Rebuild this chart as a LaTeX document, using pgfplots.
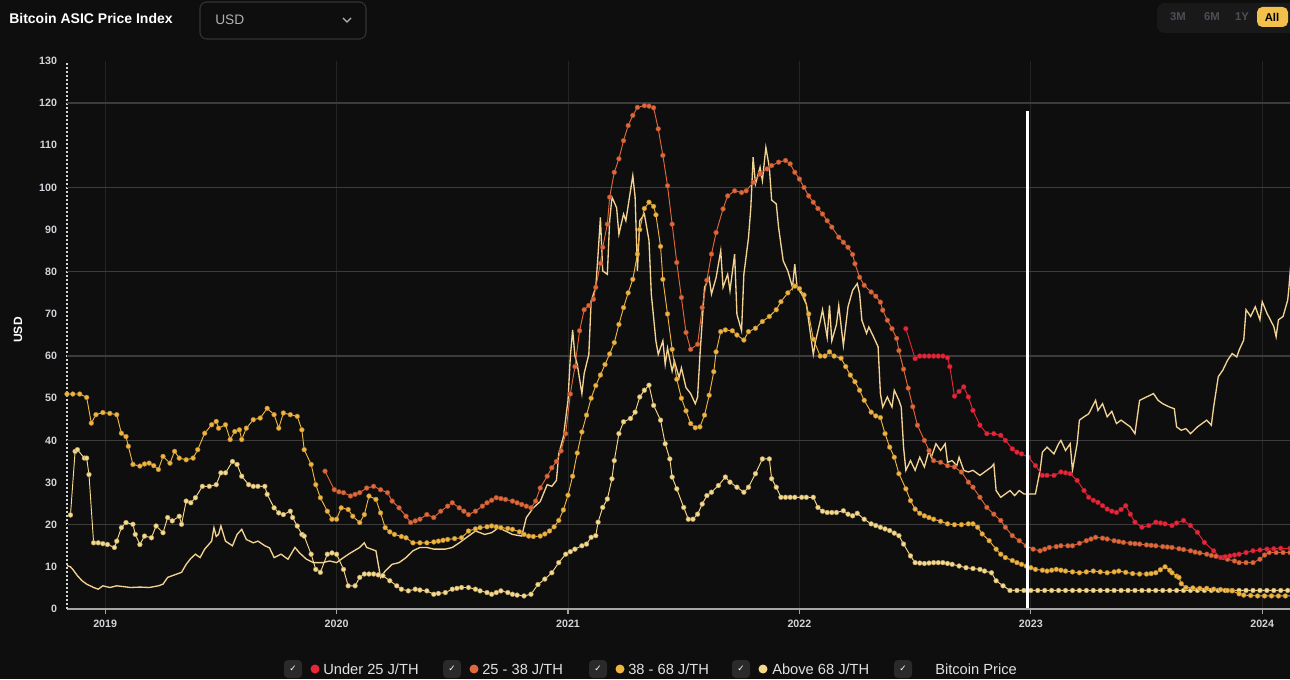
\documentclass[border=0pt]{standalone}
\usepackage{pgfplots}
\pgfplotsset{compat=1.18}
\usepackage{fontspec}
\setmainfont{Liberation Sans}
\newfontfamily\dejavu{DejaVu Sans}
\definecolor{bg}{HTML}{0E0E0E}
\definecolor{hgrid}{HTML}{3C3C3C}
\definecolor{vgrid}{HTML}{242424}
\definecolor{ticktxt}{HTML}{D2D4DA}
\definecolor{cU}{HTML}{E8263A}
\definecolor{cA}{HTML}{E0683B}
\definecolor{cB}{HTML}{F0B441}
\definecolor{cC}{HTML}{F6D98B}
\definecolor{cBTC}{HTML}{F3D393}
\definecolor{chk}{HTML}{2A2A2A}
\pgfplotsset{ser/.style={color=#1, line width=0.7pt, mark=*, mark size=1.8pt,
  mark options={solid, fill=#1, draw=#1!70!black, line width=0.3pt}}}
\begin{document}
\begin{tikzpicture}[x=0.75pt,y=0.75pt]
\useasboundingbox (0,0) rectangle (1290,679);
\fill[bg] (0,0) rectangle (1290,679);
\begin{axis}[
  at={(50.25pt,52.5pt)}, anchor=south west, scale only axis,
  width=917.25pt, height=411pt,
  xmin=2018.835, xmax=2024.12, ymin=0, ymax=130,
  separate axis lines,
  axis x line*=bottom, axis y line*=left,
  x axis line style={-, draw=gray!70, line width=1pt},
  y axis line style={-, draw=ticktxt, dash pattern=on 1.5pt off 1.5pt, line width=0.8pt},
  xtick={2019,2020,2021,2022,2023,2024},
  xticklabels={2019,2020,2021,2022,2023,2024},
  xmajorgrids, x grid style={draw=vgrid, line width=0.6pt},
  tick align=outside, major tick length=4pt,
  xtick style={draw=gray!70, line width=0.8pt},
  ytick={0,10,...,130}, ytick style={draw=none},
  extra y ticks={20,40,60,80,100,120}, extra y tick labels={},
  extra y tick style={ymajorgrids=true, major tick length=0pt},
  y grid style={draw=hgrid, line width=1pt},
  /pgf/number format/assume math mode=true,
  yticklabel style={font=\bfseries\fontsize{8}{9}\selectfont, text=ticktxt},
  xticklabel style={font=\bfseries\fontsize{8}{9}\selectfont, text=ticktxt, yshift=-1pt},
  clip mode=individual,
]
% Bitcoin price
\addplot[color=cBTC, line width=1pt, no markers] coordinates {
(2018.835,10.3)(2018.85,10)(2018.86,9.4)(2018.88,7.9)(2018.90,6.7)(2018.92,5.9)(2018.95,5.1)(2018.97,4.7)(2018.99,5.5)(2019.02,5.1)(2019.05,5.5)(2019.08,5.3)(2019.11,5.1)(2019.15,5.2)(2019.19,5.1)(2019.23,5.5)(2019.25,5.9)(2019.27,7.5)(2019.31,8.3)(2019.33,8.7)(2019.35,10.6)(2019.37,12)(2019.39,13)(2019.41,12.2)(2019.43,14.2)(2019.46,16.1)(2019.47,19.3)(2019.48,17.2)(2019.49,17.7)(2019.50,19.7)(2019.52,16.1)(2019.55,15)(2019.57,17.7)(2019.59,18.9)(2019.61,16.5)(2019.64,15.7)(2019.66,16.1)(2019.69,15)(2019.71,14.5)(2019.73,12.2)(2019.76,13)(2019.79,11.8)(2019.82,14.6)(2019.84,13.3)(2019.87,11.8)(2019.90,11)(2019.94,11)(2019.97,11.4)(2020.00,11)(2020.03,12.2)(2020.06,13.3)(2020.10,14.6)(2020.12,15.7)(2020.13,14.6)(2020.17,13.8)(2020.19,7.5)(2020.21,9)(2020.24,10.6)(2020.27,11)(2020.30,12.2)(2020.33,13.8)(2020.36,14.6)(2020.39,14.6)(2020.42,14.2)(2020.47,14.2)(2020.50,14.6)(2020.53,15.7)(2020.57,17.3)(2020.60,18.5)(2020.64,17.7)(2020.67,18.1)(2020.70,19.3)(2020.73,18.5)(2020.76,17.7)(2020.80,17.3)(2020.82,21.7)(2020.85,24)(2020.88,25.5)(2020.91,29.5)(2020.93,29.1)(2020.95,30.5)(2020.96,36.8)(2020.98,40.8)(2021.00,49.5)(2021.01,59.8)(2021.02,66.2)(2021.03,60)(2021.04,58)(2021.06,51.1)(2021.07,55.9)(2021.09,60.4)(2021.10,73.1)(2021.12,76.3)(2021.13,84.2)(2021.14,92.9)(2021.15,80.2)(2021.17,79.4)(2021.18,92.1)(2021.19,97.7)(2021.21,95.2)(2021.22,88.9)(2021.24,93.7)(2021.25,92.1)(2021.28,102.8)(2021.29,97.7)(2021.30,80.2)(2021.31,92.1)(2021.33,93.7)(2021.35,87.4)(2021.36,74.7)(2021.38,63.5)(2021.39,60.4)(2021.41,63.6)(2021.42,58)(2021.43,61.9)(2021.45,56.4)(2021.46,58.8)(2021.48,54.9)(2021.49,57.2)(2021.51,52.5)(2021.53,51.1)(2021.55,48.7)(2021.56,50.3)(2021.57,60)(2021.58,68.3)(2021.59,76.3)(2021.61,78.6)(2021.62,74.7)(2021.64,78.6)(2021.66,85)(2021.67,76.3)(2021.69,79.4)(2021.70,75.5)(2021.72,84.2)(2021.73,69.9)(2021.75,66)(2021.76,79.4)(2021.78,88.1)(2021.79,95.2)(2021.80,107.2)(2021.81,100.8)(2021.83,104.8)(2021.84,101.6)(2021.855,109.5)(2021.87,104.8)(2021.88,97)(2021.90,96.1)(2021.91,90.5)(2021.93,82.6)(2021.95,80.2)(2021.97,76.3)(2021.98,81.8)(2021.99,76.3)(2022.01,74.7)(2022.03,72.3)(2022.04,68.3)(2022.06,60.4)(2022.07,63.6)(2022.09,68.3)(2022.10,71)(2022.12,64.4)(2022.13,72)(2022.14,63.6)(2022.16,67.5)(2022.17,72)(2022.19,62.5)(2022.21,71.7)(2022.23,75.6)(2022.25,77.2)(2022.26,74.8)(2022.27,68.5)(2022.29,65.4)(2022.30,66.9)(2022.32,64.6)(2022.34,62.2)(2022.35,51.1)(2022.36,47.9)(2022.38,50.3)(2022.40,47.9)(2022.41,51.9)(2022.43,49.5)(2022.44,47.9)(2022.45,38.4)(2022.46,32.9)(2022.48,35.2)(2022.50,32.9)(2022.52,36)(2022.54,33.7)(2022.56,37.6)(2022.57,36)(2022.59,39.2)(2022.61,37.6)(2022.63,39.2)(2022.64,34.8)(2022.66,35.2)(2022.68,34)(2022.69,36)(2022.71,32.9)(2022.73,32.5)(2022.75,32.9)(2022.78,31.7)(2022.81,32.9)(2022.83,33.7)(2022.84,34.4)(2022.85,28.1)(2022.87,26.5)(2022.89,27.3)(2022.91,28.1)(2022.93,26.9)(2022.95,28.1)(2022.97,27.3)(2023.00,27.3)(2023.02,27.3)(2023.04,32.9)(2023.05,37.2)(2023.07,38.4)(2023.10,36.8)(2023.12,39.2)(2023.13,40)(2023.15,37.6)(2023.17,39.2)(2023.18,32.9)(2023.20,39.2)(2023.21,44.8)(2023.23,45.6)(2023.25,46.3)(2023.28,49.5)(2023.29,47.1)(2023.31,48.7)(2023.33,45.6)(2023.35,46.9)(2023.37,44)(2023.39,44.8)(2023.41,44)(2023.43,43.2)(2023.45,41.6)(2023.47,49.5)(2023.50,50.3)(2023.53,51.1)(2023.55,49.5)(2023.57,48.7)(2023.60,47.9)(2023.62,47.5)(2023.63,43.2)(2023.65,42.4)(2023.67,42.8)(2023.69,41.6)(2023.72,43.2)(2023.74,44)(2023.76,44.8)(2023.78,43.6)(2023.79,47.9)(2023.81,55.1)(2023.83,56.7)(2023.85,59)(2023.87,60.6)(2023.89,59.8)(2023.90,61.4)(2023.92,63.8)(2023.93,71)(2023.95,69.4)(2023.97,71.7)(2023.99,68.6)(2024.00,72.9)(2024.02,70.2)(2024.05,67)(2024.06,64.6)(2024.07,68.6)(2024.09,69.4)(2024.11,73.3)(2024.115,76)(2024.125,83)
};
% Above 68 J/TH
\addplot[ser=cC] coordinates {
(2018.85,22.3)(2018.87,37.4)(2018.88,37.8)(2018.91,35.8)(2018.92,35.8)(2018.93,31.9)(2018.95,15.7)(2018.97,15.7)(2018.99,15.5)(2019.01,15.3)(2019.04,14.6)(2019.05,16.1)(2019.07,19.3)(2019.09,20.5)(2019.12,20.1)(2019.13,17.7)(2019.15,15.3)(2019.17,17.3)(2019.20,16.9)(2019.22,19.7)(2019.25,18.1)(2019.27,21.7)(2019.29,20.9)(2019.32,22)(2019.33,20.1)(2019.35,25.6)(2019.37,25.2)(2019.39,26.4)(2019.42,29.1)(2019.45,29.1)(2019.48,29.5)(2019.50,32.3)(2019.52,32.3)(2019.55,35)(2019.57,34.3)(2019.59,31.5)(2019.62,29.5)(2019.64,29.1)(2019.66,29.1)(2019.69,29.1)(2019.70,27.2)(2019.73,24)(2019.75,22.8)(2019.77,22.4)(2019.80,23.2)(2019.81,21.7)(2019.83,19.7)(2019.85,17.7)(2019.86,17.3)(2019.89,13)(2019.91,9.4)(2019.93,8.7)(2019.96,13)(2019.98,13.3)(2020.00,13)(2020.03,9.4)(2020.05,5.5)(2020.08,5.5)(2020.10,7.5)(2020.12,8.3)(2020.14,8.3)(2020.16,8.3)(2020.18,8.1)(2020.20,7.9)(2020.23,6.7)(2020.26,5.5)(2020.28,4.7)(2020.31,4.3)(2020.34,4.7)(2020.36,4.5)(2020.39,4.3)(2020.42,3.5)(2020.44,3.7)(2020.47,3.9)(2020.50,4.7)(2020.52,4.9)(2020.54,5.1)(2020.57,5.1)(2020.60,4.7)(2020.62,4.3)(2020.65,3.9)(2020.67,3.5)(2020.69,3.9)(2020.71,4.3)(2020.74,3.9)(2020.76,3.5)(2020.78,3.3)(2020.81,3.1)(2020.84,3.5)(2020.87,5.8)(2020.90,7.1)(2020.93,8.6)(2020.96,11)(2020.99,13)(2021.01,13.6)(2021.03,14.2)(2021.06,15)(2021.08,15.4)(2021.10,17)(2021.12,17.4)(2021.13,20.6)(2021.15,24.1)(2021.17,26.1)(2021.19,30.9)(2021.20,35.2)(2021.22,41.6)(2021.24,44.4)(2021.27,45.2)(2021.29,46.7)(2021.31,50.3)(2021.33,51.9)(2021.35,53.1)(2021.37,48.3)(2021.40,44.8)(2021.42,39.2)(2021.44,35.6)(2021.45,31.3)(2021.47,28.5)(2021.50,24.1)(2021.52,21.3)(2021.54,21.3)(2021.56,22.5)(2021.58,24.9)(2021.60,26.9)(2021.62,27.7)(2021.65,29.3)(2021.68,31.3)(2021.70,30.1)(2021.73,28.9)(2021.76,27.7)(2021.78,28.9)(2021.81,32.1)(2021.84,35.6)(2021.87,35.6)(2021.88,30.9)(2021.90,28.9)(2021.92,26.5)(2021.94,26.5)(2021.96,26.5)(2021.98,26.5)(2022.01,26.5)(2022.03,26.5)(2022.06,26.5)(2022.08,24.1)(2022.10,23.2)(2022.12,22.9)(2022.14,22.9)(2022.16,22.9)(2022.19,23.3)(2022.21,22.5)(2022.23,22.1)(2022.25,22.7)(2022.28,21.3)(2022.31,20.2)(2022.33,19.8)(2022.35,19.4)(2022.37,19)(2022.39,18.6)(2022.41,18)(2022.43,17.4)(2022.45,15.4)(2022.48,12.6)(2022.50,11)(2022.52,10.9)(2022.54,10.8)(2022.56,10.9)(2022.58,11)(2022.60,11)(2022.62,11)(2022.64,10.8)(2022.66,10.6)(2022.69,10.2)(2022.72,9.8)(2022.75,9.6)(2022.78,9.4)(2022.80,9)(2022.83,8.6)(2022.85,6.7)(2022.88,5.5)(2022.91,4.4)(2022.94,4.4)(2022.97,4.4)(2023.00,4.4)(2023.03,4.4)(2023.06,4.4)(2023.09,4.4)(2023.12,4.4)(2023.15,4.4)(2023.18,4.4)(2023.21,4.4)(2023.24,4.4)(2023.27,4.4)(2023.30,4.4)(2023.33,4.4)(2023.36,4.4)(2023.39,4.4)(2023.42,4.4)(2023.45,4.4)(2023.48,4.4)(2023.51,4.4)(2023.54,4.4)(2023.57,4.4)(2023.60,4.4)(2023.63,4.4)(2023.66,4.4)(2023.69,4.4)(2023.72,4.4)(2023.75,4.4)(2023.78,4.4)(2023.81,4.4)(2023.84,4.4)(2023.87,4.4)(2023.90,4.4)(2023.93,4.4)(2023.96,4.4)(2023.99,4.4)(2024.02,4.4)(2024.05,4.4)(2024.08,4.4)(2024.11,4.4)(2024.14,4.4)
};
% 38 - 68 J/TH
\addplot[ser=cB] coordinates {
(2018.835,51)(2018.86,51)(2018.89,51)(2018.92,50.2)(2018.94,44.1)(2018.96,46.1)(2018.99,46.6)(2019.02,46.4)(2019.05,46.1)(2019.07,41.7)(2019.09,40.9)(2019.10,38.6)(2019.12,34.3)(2019.15,33.9)(2019.17,34.4)(2019.19,34.6)(2019.21,34.0)(2019.23,33.1)(2019.25,36.2)(2019.28,34.6)(2019.30,37.4)(2019.32,35.8)(2019.35,35.4)(2019.38,35.8)(2019.40,37.8)(2019.43,41.7)(2019.46,43.7)(2019.48,44.5)(2019.49,42.9)(2019.52,43.7)(2019.54,40.2)(2019.56,42.1)(2019.58,42.5)(2019.59,40.2)(2019.61,42.9)(2019.64,44.9)(2019.67,45.3)(2019.70,47.6)(2019.73,46.1)(2019.75,42.9)(2019.77,46.5)(2019.80,46.1)(2019.83,45.7)(2019.85,42.5)(2019.86,37.8)(2019.89,34.3)(2019.91,29.5)(2019.93,26.4)(2019.96,23.2)(2019.98,21.3)(2020.00,21.3)(2020.02,24.0)(2020.05,23.6)(2020.07,22.0)(2020.10,20.5)(2020.12,22.4)(2020.14,26.8)(2020.17,26.0)(2020.19,22.8)(2020.21,19.3)(2020.23,18.3)(2020.25,17.7)(2020.28,17.2)(2020.30,16.9)(2020.33,15.7)(2020.36,15.7)(2020.39,15.7)(2020.42,15.9)(2020.44,16.1)(2020.46,16.3)(2020.48,16.5)(2020.51,16.7)(2020.54,16.9)(2020.57,18.5)(2020.60,19.0)(2020.62,19.3)(2020.65,19.5)(2020.67,19.7)(2020.69,19.5)(2020.71,19.3)(2020.74,19.1)(2020.76,18.9)(2020.79,18.3)(2020.81,17.7)(2020.83,17.3)(2020.85,17.2)(2020.88,17.3)(2020.90,17.8)(2020.92,18.5)(2020.94,19.5)(2020.96,21)(2020.98,23.5)(2021.00,27)(2021.02,31.5)(2021.04,37)(2021.06,42)(2021.08,46)(2021.10,50)(2021.12,53)(2021.14,55.5)(2021.16,58)(2021.18,60.5)(2021.20,63.2)(2021.22,67.5)(2021.24,71.5)(2021.26,75)(2021.28,78.2)(2021.30,84.2)(2021.31,90)(2021.33,95)(2021.35,96.5)(2021.37,95.5)(2021.38,93.5)(2021.40,86)(2021.41,78.2)(2021.43,70)(2021.45,61.6)(2021.47,54.5)(2021.49,50)(2021.51,47)(2021.53,44)(2021.55,43)(2021.57,43.2)(2021.59,46)(2021.61,50.7)(2021.63,56.3)(2021.64,61)(2021.66,65.8)(2021.68,66.2)(2021.71,66)(2021.73,65)(2021.76,63.8)(2021.78,65.8)(2021.81,66.6)(2021.84,68.2)(2021.87,69.4)(2021.90,71)(2021.92,72.9)(2021.95,75)(2021.98,76.6)(2022.00,76)(2022.02,74.5)(2022.04,70)(2022.06,64)(2022.09,60)(2022.11,60)(2022.13,61)(2022.15,60)(2022.18,59.5)(2022.20,57.5)(2022.22,55.5)(2022.24,53.9)(2022.26,51.9)(2022.28,49.5)(2022.31,46.7)(2022.33,45.8)(2022.35,45.4)(2022.37,41.6)(2022.39,38.4)(2022.41,36)(2022.43,32.1)(2022.46,28.5)(2022.48,25.7)(2022.50,23.7)(2022.52,22.7)(2022.54,22.1)(2022.56,21.7)(2022.58,21.3)(2022.61,20.8)(2022.64,20.2)(2022.67,20.0)(2022.70,20.0)(2022.73,20.2)(2022.75,20.2)(2022.77,19.4)(2022.79,17.8)(2022.82,16.2)(2022.85,14.2)(2022.87,13.0)(2022.89,12.2)(2022.92,11.5)(2022.94,11)(2022.96,10.6)(2022.98,10.2)(2023.00,9.8)(2023.02,9.4)(2023.05,9.2)(2023.07,9.0)(2023.09,9.2)(2023.11,9.4)(2023.13,9.2)(2023.15,9.0)(2023.18,8.8)(2023.21,8.6)(2023.24,8.8)(2023.27,9.0)(2023.30,8.8)(2023.33,8.6)(2023.36,8.8)(2023.38,9.0)(2023.41,8.7)(2023.44,8.4)(2023.47,8.3)(2023.50,8.3)(2023.52,8.4)(2023.54,8.6)(2023.56,9.3)(2023.58,10)(2023.60,9.2)(2023.61,8.6)(2023.63,7.8)(2023.64,7.5)(2023.65,6)(2023.67,5.1)(2023.70,5.0)(2023.73,4.9)(2023.76,4.9)(2023.79,4.7)(2023.82,4.6)(2023.85,4.4)(2023.87,4.3)(2023.90,3.6)(2023.92,3.3)(2023.95,3.2)(2023.98,3.1)(2024.01,3.1)(2024.04,3.1)(2024.07,3.1)(2024.10,3.1)(2024.13,3.1)
};
% 25 - 38 J/TH
\addplot[ser=cA] coordinates {
(2019.95,32.7)(2019.99,28.3)(2020.01,27.8)(2020.03,27.6)(2020.06,26.8)(2020.08,27.2)(2020.10,27.6)(2020.13,28.7)(2020.16,29.1)(2020.19,28.3)(2020.22,27.6)(2020.24,25.6)(2020.27,24)(2020.30,22)(2020.32,20.5)(2020.34,20.9)(2020.36,21.3)(2020.39,22.4)(2020.42,21.7)(2020.45,23.2)(2020.48,24.4)(2020.50,25.2)(2020.53,24)(2020.55,23.2)(2020.57,22.4)(2020.60,23.2)(2020.63,24.4)(2020.65,25.2)(2020.67,25.8)(2020.69,26.4)(2020.71,26.2)(2020.73,26)(2020.76,25.6)(2020.78,25.2)(2020.80,24.8)(2020.82,24.4)(2020.84,24)(2020.86,25.6)(2020.88,28.7)(2020.91,31.5)(2020.93,33.5)(2020.95,35)(2020.97,37.5)(2020.99,41.6)(2021.01,51)(2021.03,57.5)(2021.05,66)(2021.07,71)(2021.09,72)(2021.11,73.5)(2021.12,76.3)(2021.14,82)(2021.15,85.8)(2021.17,91.3)(2021.18,97.7)(2021.20,103.6)(2021.22,106.8)(2021.24,111.1)(2021.26,114.7)(2021.28,117.1)(2021.30,119)(2021.33,119.4)(2021.35,119.3)(2021.37,118.9)(2021.39,113.9)(2021.41,107.6)(2021.43,100.4)(2021.45,91.3)(2021.47,82.2)(2021.49,73.9)(2021.51,65.6)(2021.53,61.6)(2021.56,62.8)(2021.58,71.5)(2021.60,78)(2021.62,84.2)(2021.64,89.3)(2021.67,94.9)(2021.69,98)(2021.72,99.2)(2021.75,98.8)(2021.77,99.2)(2021.80,101.2)(2021.83,103.2)(2021.86,104.4)(2021.88,105.2)(2021.91,106)(2021.94,106.4)(2021.96,105.6)(2021.98,103.6)(2022.00,102)(2022.02,100)(2022.04,98)(2022.06,96.5)(2022.08,95)(2022.10,93.7)(2022.12,92.1)(2022.14,90.6)(2022.17,88.2)(2022.19,87)(2022.21,85.8)(2022.23,84.1)(2022.24,81.9)(2022.26,78.7)(2022.28,76.8)(2022.31,75.2)(2022.33,74.2)(2022.35,72.8)(2022.36,70.9)(2022.38,68.5)(2022.40,66.5)(2022.42,64.2)(2022.43,61.3)(2022.45,56.9)(2022.47,52.4)(2022.49,48)(2022.51,43.6)(2022.54,40)(2022.56,37.6)(2022.58,35.2)(2022.61,34.8)(2022.64,34)(2022.67,33.7)(2022.70,32.5)(2022.73,30.1)(2022.75,28.9)(2022.78,26.5)(2022.81,24.1)(2022.84,22.5)(2022.87,21)(2022.89,19.4)(2022.92,17.4)(2022.95,16.2)(2022.98,15)(2023.01,14.2)(2023.04,13.8)(2023.06,14.2)(2023.08,14.6)(2023.11,14.8)(2023.13,15)(2023.16,15)(2023.18,15)(2023.21,15.6)(2023.24,16.2)(2023.26,16.6)(2023.28,17)(2023.31,16.8)(2023.33,16.6)(2023.36,16.2)(2023.38,16)(2023.40,15.8)(2023.43,15.6)(2023.45,15.5)(2023.47,15.4)(2023.50,15.2)(2023.52,15.1)(2023.54,15)(2023.57,14.8)(2023.59,14.7)(2023.61,14.6)(2023.64,14.3)(2023.66,14.1)(2023.69,13.8)(2023.71,13.5)(2023.73,13.3)(2023.76,13)(2023.78,12.7)(2023.80,12.5)(2023.83,12.2)(2023.85,11.8)(2023.88,11.4)(2023.90,11)(2023.93,11)(2023.96,11)(2023.99,11.8)(2024.01,12.8)(2024.03,13.4)(2024.06,13.4)(2024.09,13.4)(2024.12,13.4)
};
% Under 25 J/TH
\addplot[ser=cU] coordinates {
(2022.46,66.5)(2022.50,59.4)(2022.52,60)(2022.54,60)(2022.56,60)(2022.58,60)(2022.60,60)(2022.62,60)(2022.64,59.6)(2022.65,57.5)(2022.67,50.5)(2022.69,51.6)(2022.71,52.7)(2022.73,50.3)(2022.75,47.1)(2022.78,43.6)(2022.81,41.6)(2022.84,41.6)(2022.87,41.2)(2022.89,40)(2022.92,38)(2022.94,37.2)(2022.96,36.8)(2022.99,36)(2023.02,34)(2023.05,31.7)(2023.07,31.7)(2023.10,31.7)(2023.13,32.5)(2023.15,32.3)(2023.17,32.1)(2023.20,30.5)(2023.23,28.1)(2023.25,26.5)(2023.27,25.8)(2023.29,25.3)(2023.31,24.5)(2023.33,23.7)(2023.35,23.2)(2023.37,22.9)(2023.39,23.6)(2023.41,24.5)(2023.43,22.5)(2023.45,20.6)(2023.48,19.4)(2023.51,19.8)(2023.54,20.6)(2023.56,20.4)(2023.58,20.2)(2023.61,19.8)(2023.63,20.4)(2023.66,21)(2023.69,19.8)(2023.72,18.2)(2023.75,15.8)(2023.79,13.8)(2023.82,12.2)(2023.84,12.4)(2023.86,12.6)(2023.88,12.8)(2023.90,13)(2023.93,13.4)(2023.96,13.8)(2023.99,14)(2024.02,14.2)(2024.05,14.3)(2024.08,14.4)(2024.12,14.4)
};
% hover cursor line
\addplot[white, line width=2.2pt, no markers] coordinates {(2022.985,0.3)(2022.985,118.2)};
\end{axis}
% y label
\node[rotate=90, font=\bfseries\fontsize{9}{10}\selectfont, text=white] at (18,349) {USD};
% title and controls
\node[anchor=west, font=\bfseries\fontsize{10.5}{12}\selectfont, text=white, inner sep=0] at (9,660) {Bitcoin ASIC Price Index};
\draw[draw=black!80!white, fill=bg, rounded corners=5pt, line width=0.8pt] (200,677) rectangle (366,640);
\node[anchor=west, font=\fontsize{10.3}{12}\selectfont, text=black!30!white, inner sep=0] at (215,659) {USD};
\draw[black!30!white, line width=1pt] (343,661)--(347,657)--(351,661);
\fill[fill=black!90!white, rounded corners=6pt] (1157,676) rectangle (1300,646);
\fill[fill={rgb,255:red,243;green,192;blue,76}, rounded corners=4pt] (1257,672) rectangle (1288,652);
\node[font=\bfseries\fontsize{8.5}{10}\selectfont, text={rgb,255:red,75;green,79;blue,87}] at (1178,662) {3M};
\node[font=\bfseries\fontsize{8.5}{10}\selectfont, text={rgb,255:red,75;green,79;blue,87}] at (1212,662) {6M};
\node[font=\bfseries\fontsize{8.5}{10}\selectfont, text={rgb,255:red,75;green,79;blue,87}] at (1242,662) {1Y};
\node[font=\bfseries\fontsize{8.5}{10}\selectfont, text=black] at (1272,662) {All};
% legend
\foreach \cx in {293,452,598,741,903} {
  \fill[chk, rounded corners=3pt] (\cx-9,1) rectangle (\cx+9,19);
  \node[font=\dejavu\fontsize{6.5}{7}\selectfont, text=white] at (\cx,10) {✓};
}
\fill[cU] (315,10) circle (4.5);
\fill[cA] (474,10) circle (4.5);
\fill[cB] (620,10) circle (4.5);
\fill[cC] (763,10) circle (4.5);
\node[anchor=west, inner sep=0, font=\fontsize{11}{12}\selectfont, text=white!88!black] at (323,10) {Under 25 J/TH};
\node[anchor=west, inner sep=0, font=\fontsize{11}{12}\selectfont, text=white!88!black] at (482,10) {25 - 38 J/TH};
\node[anchor=west, inner sep=0, font=\fontsize{11}{12}\selectfont, text=white!88!black] at (628,10) {38 - 68 J/TH};
\node[anchor=west, inner sep=0, font=\fontsize{11}{12}\selectfont, text=white!88!black] at (772,10) {Above 68 J/TH};
\node[anchor=west, inner sep=0, font=\fontsize{11}{12}\selectfont, text=white!88!black] at (935,10) {Bitcoin Price};
\end{tikzpicture}
\end{document}
